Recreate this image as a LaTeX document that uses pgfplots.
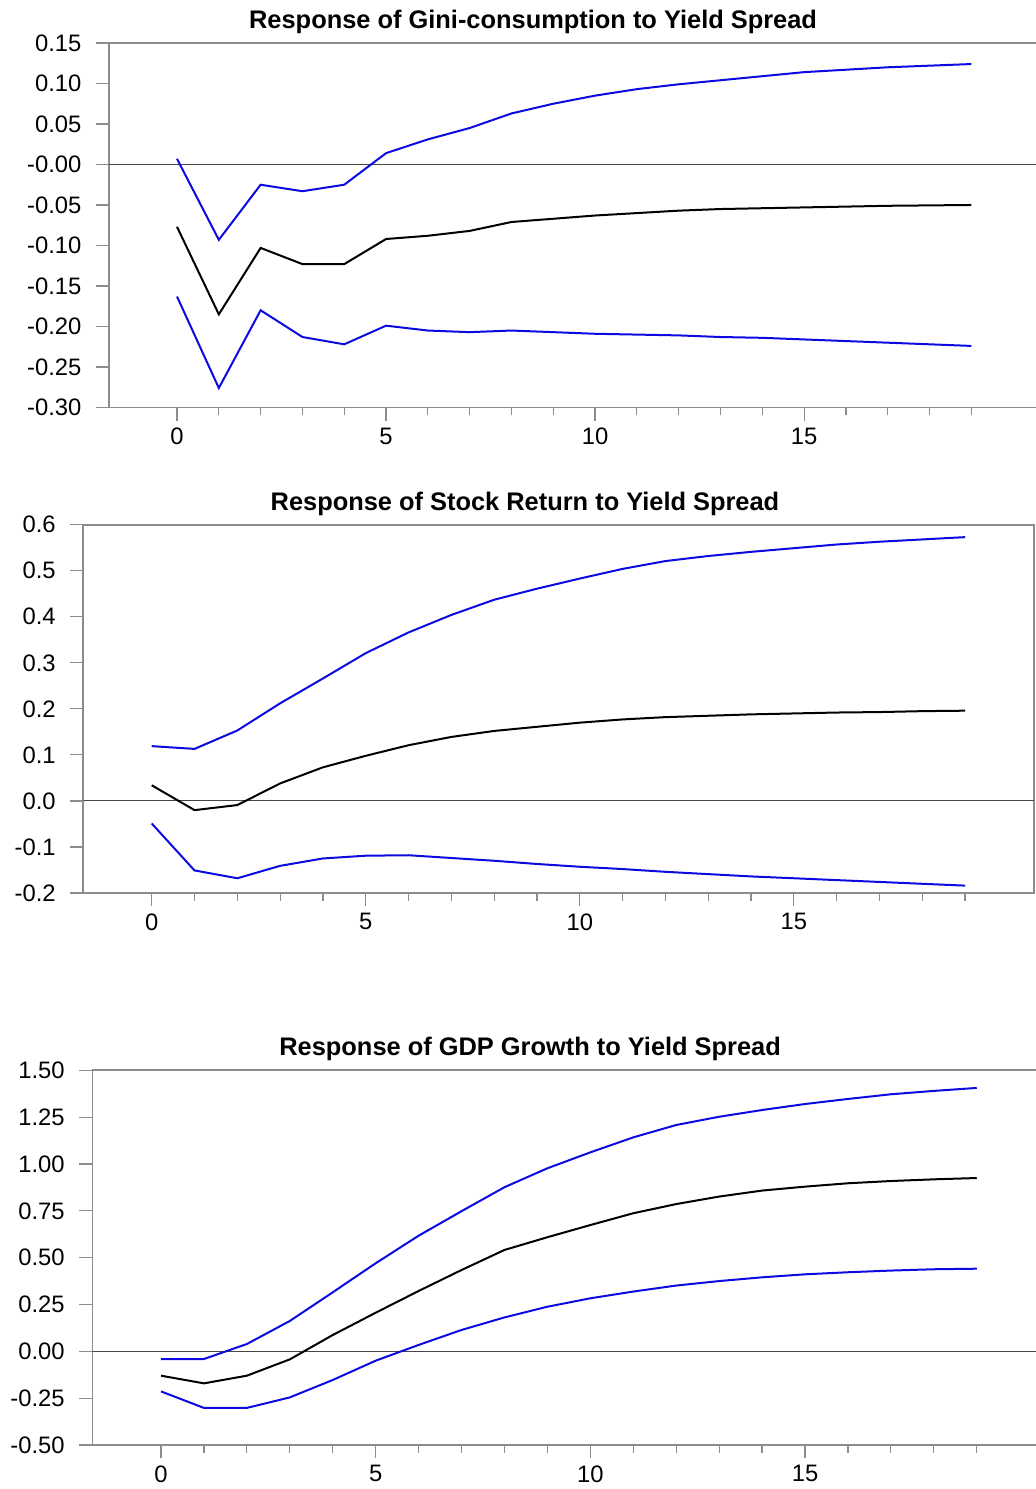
\documentclass[border=0pt]{standalone}
\usepackage{pgfplots}
\pgfplotsset{compat=1.18}
\usepackage{fontspec}
\setmainfont{Liberation Sans}
\definecolor{irfblue}{RGB}{10,10,225}
\definecolor{framegray}{RGB}{140,140,140}
\definecolor{zerogray}{RGB}{70,70,70}
\pgfplotsset{
  irf/.style={
    scale only axis,
    axis line style={framegray, line width=0.8pt},
    tick align=outside,
    major tick length=6.6pt,
    minor tick length=4pt,
    every tick/.style={framegray, line width=0.6pt},
    xtick={0,5,10,15},
    xticklabels={0,5,10,15},
    minor xtick={1,2,3,4,6,7,8,9,11,12,13,14,16,17,18,19},
    ytick pos=left, xtick pos=bottom,
    tick label style={font=\fontsize{11.9}{13}\selectfont},
    yticklabel style={inner sep=0pt, xshift=-7pt},
    xticklabel style={inner sep=0pt, yshift=-3.5pt},
    title style={font=\bfseries\fontsize{12.7}{14}\selectfont, anchor=base, inner sep=0pt, yshift=1.2pt},
    anchor=south west,
  },
  blueline/.style={irfblue, line width=1pt, no markers},
  blackline/.style={black, line width=1pt, no markers},
  zeroline/.style={zerogray, line width=0.5pt, no markers},
}
\begin{document}
\begin{tikzpicture}
\path[use as bounding box] (0,0) rectangle (518pt,744.5pt);
% Panel 1
\begin{axis}[irf, at={(54.5pt,540.75pt)}, width=466.5pt, height=182.25pt,
  xmin=-1.627, xmax=20.69, ymin=-0.30, ymax=0.15,
  ytick={0.15,0.10,0.05,0,-0.05,-0.10,-0.15,-0.20,-0.25,-0.30},
  yticklabels={0.15,0.10,0.05,-0.00,-0.05,-0.10,-0.15,-0.20,-0.25,-0.30},
  title={Response of Gini-consumption to Yield Spread},
  title style={at={(0.4545,1)}}]
\addplot[zeroline] coordinates {(-1.627,0) (20.69,0)};
\addplot[blueline] coordinates {(0,0.007) (1,-0.093) (2,-0.025) (3,-0.033) (4,-0.025) (5,0.014) (6,0.031) (7,0.045) (8,0.063) (9,0.075) (10,0.085) (11,0.093) (12,0.099) (13,0.104) (14,0.109) (15,0.114) (16,0.117) (17,0.120) (18,0.122) (19,0.124)};
\addplot[blackline] coordinates {(0,-0.077) (1,-0.185) (2,-0.103) (3,-0.123) (4,-0.123) (5,-0.092) (6,-0.088) (7,-0.082) (8,-0.071) (9,-0.067) (10,-0.063) (11,-0.060) (12,-0.057) (13,-0.055) (14,-0.054) (15,-0.053) (16,-0.052) (17,-0.051) (18,-0.0505) (19,-0.050)};
\addplot[blueline] coordinates {(0,-0.163) (1,-0.276) (2,-0.180) (3,-0.213) (4,-0.222) (5,-0.199) (6,-0.205) (7,-0.207) (8,-0.205) (9,-0.207) (10,-0.209) (11,-0.210) (12,-0.211) (13,-0.213) (14,-0.214) (15,-0.216) (16,-0.218) (17,-0.220) (18,-0.222) (19,-0.224)};
\end{axis}
% Panel 2
\begin{axis}[irf, at={(41.65pt,298pt)}, width=475.35pt, height=184.15pt,
  xmin=-1.598, xmax=20.61, ymin=-0.2, ymax=0.6,
  ytick={0.6,0.5,0.4,0.3,0.2,0.1,0,-0.1,-0.2},
  yticklabels={0.6,0.5,0.4,0.3,0.2,0.1,0.0,-0.1,-0.2},
  title={Response of Stock Return to Yield Spread},
  title style={at={(0.4646,1)}}]
\addplot[zeroline] coordinates {(-1.598,0) (20.61,0)};
\addplot[blueline] coordinates {(0,0.119) (1,0.113) (2,0.153) (3,0.212) (4,0.266) (5,0.321) (6,0.366) (7,0.404) (8,0.437) (9,0.461) (10,0.483) (11,0.504) (12,0.521) (13,0.532) (14,0.541) (15,0.549) (16,0.557) (17,0.563) (18,0.568) (19,0.573)};
\addplot[blackline] coordinates {(0,0.034) (1,-0.020) (2,-0.009) (3,0.038) (4,0.073) (5,0.098) (6,0.121) (7,0.139) (8,0.152) (9,0.161) (10,0.170) (11,0.177) (12,0.182) (13,0.185) (14,0.188) (15,0.190) (16,0.192) (17,0.193) (18,0.195) (19,0.196)};
\addplot[blueline] coordinates {(0,-0.049) (1,-0.151) (2,-0.168) (3,-0.141) (4,-0.125) (5,-0.119) (6,-0.118) (7,-0.124) (8,-0.130) (9,-0.137) (10,-0.143) (11,-0.148) (12,-0.154) (13,-0.159) (14,-0.164) (15,-0.168) (16,-0.172) (17,-0.176) (18,-0.180) (19,-0.184)};
\end{axis}
% Panel 3
\begin{axis}[irf, at={(46.15pt,22pt)}, width=474.85pt, height=187.35pt,
  xmin=-1.60, xmax=20.52, ymin=-0.5, ymax=1.5,
  ytick={1.5,1.25,1,0.75,0.5,0.25,0,-0.25,-0.5},
  yticklabels={1.50,1.25,1.00,0.75,0.50,0.25,0.00,-0.25,-0.50},
  title={Response of GDP Growth to Yield Spread},
  title style={at={(0.461,1)}}]
\addplot[zeroline] coordinates {(-1.60,0) (20.52,0)};
\addplot[blueline] coordinates {(0,-0.041) (1,-0.041) (2,0.039) (3,0.162) (4,0.315) (5,0.470) (6,0.617) (7,0.748) (8,0.876) (9,0.977) (10,1.062) (11,1.142) (12,1.208) (13,1.252) (14,1.288) (15,1.320) (16,1.347) (17,1.372) (18,1.390) (19,1.406)};
\addplot[blackline] coordinates {(0,-0.130) (1,-0.171) (2,-0.130) (3,-0.043) (4,0.087) (5,0.206) (6,0.322) (7,0.434) (8,0.541) (9,0.609) (10,0.674) (11,0.737) (12,0.786) (13,0.826) (14,0.858) (15,0.879) (16,0.897) (17,0.909) (18,0.918) (19,0.925)};
\addplot[blueline] coordinates {(0,-0.214) (1,-0.302) (2,-0.302) (3,-0.246) (4,-0.153) (5,-0.050) (6,0.034) (7,0.114) (8,0.181) (9,0.238) (10,0.283) (11,0.319) (12,0.351) (13,0.375) (14,0.395) (15,0.411) (16,0.422) (17,0.431) (18,0.438) (19,0.441)};
\end{axis}
\end{tikzpicture}
\end{document}
